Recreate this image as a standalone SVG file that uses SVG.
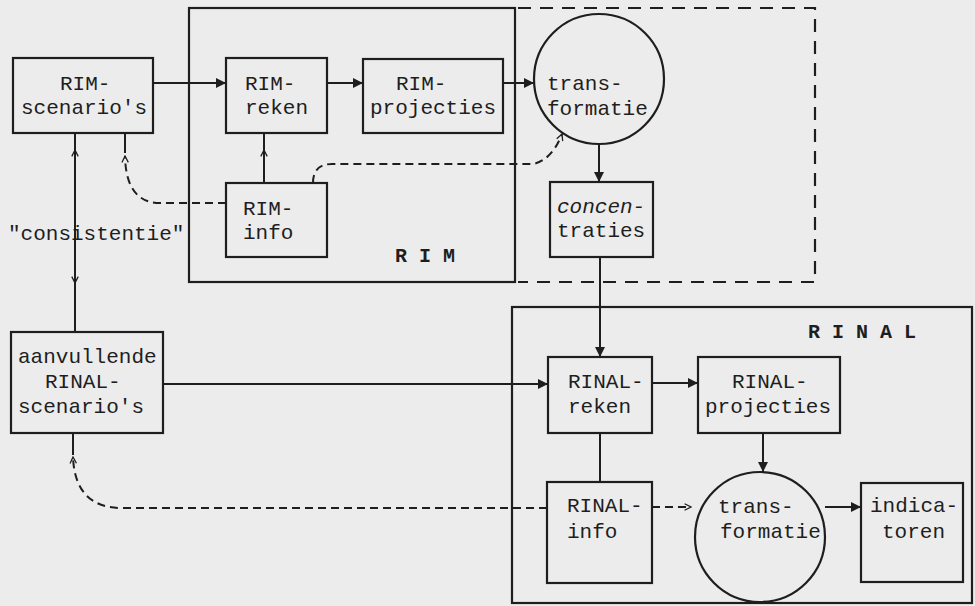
<svg xmlns="http://www.w3.org/2000/svg" width="975" height="606" viewBox="0 0 975 606">
<style>
  .bg{fill:#ececec}
  .box{fill:none;stroke:#1e1e1e;stroke-width:2.2}
  .frame{fill:none;stroke:#1e1e1e;stroke-width:2.2}
  .dframe{fill:none;stroke:#1e1e1e;stroke-width:2.2;stroke-dasharray:13,9}
  .ln{fill:none;stroke:#1e1e1e;stroke-width:2}
  .dl{fill:none;stroke:#1e1e1e;stroke-width:2;stroke-dasharray:8,5}
  text{font-family:"Liberation Mono","Courier New",monospace;font-size:21px;fill:#1e1e1e}
  .lbl{font-weight:bold;font-size:20px}
</style>
<defs>
  <marker id="arr" viewBox="0 0 10 10" refX="10" refY="5" markerWidth="5" markerHeight="5" orient="auto" markerUnits="strokeWidth">
    <path d="M0,0 L10,5 L0,10 z" fill="#1e1e1e"/>
  </marker>
  <marker id="tip" viewBox="0 0 10 10" refX="9" refY="5" markerWidth="4" markerHeight="4" orient="auto" markerUnits="strokeWidth">
    <path d="M1,1 L9,5 L1,9" fill="none" stroke="#1e1e1e" stroke-width="1.6"/>
  </marker>
</defs>
<rect class="bg" x="0" y="0" width="975" height="606"/>

<g id="rim-frame">
  <rect class="frame" x="189" y="8" width="326" height="274"/>
  <text class="lbl" x="395" y="262">R I M</text>
</g>
<g id="rim-dashed-frame">
  <path class="dframe" d="M518,8 H815 V282 H518"/>
</g>
<g id="rinal-frame">
  <rect class="frame" x="512" y="307" width="460" height="296"/>
  <text class="lbl" x="808" y="338">R I N A L</text>
</g>

<g id="rim-scenarios">
  <rect class="box" x="13" y="58" width="140" height="75"/>
  <text x="60" y="90">RIM-</text>
  <text x="21" y="114">scenario's</text>
</g>
<g id="rim-reken">
  <rect class="box" x="226" y="58" width="101" height="75"/>
  <text x="245" y="90">RIM-</text>
  <text x="245" y="114">reken</text>
</g>
<g id="rim-projecties">
  <rect class="box" x="363" y="59" width="140" height="74"/>
  <text x="396" y="90">RIM-</text>
  <text x="370" y="114">projecties</text>
</g>
<g id="transformatie-1">
  <circle class="box" cx="599" cy="79" r="65"/>
  <text x="547" y="90">trans-</text>
  <text x="547" y="115">formatie</text>
</g>
<g id="rim-info">
  <rect class="box" x="226" y="183" width="101" height="74"/>
  <text x="243" y="215">RIM-</text>
  <text x="243" y="239">info</text>
</g>
<g id="concentraties">
  <rect class="box" x="550" y="182" width="103" height="75"/>
  <text x="557" y="213" font-style="italic">concen-</text>
  <text x="557" y="237">traties</text>
</g>
<g id="consistentie-label">
  <text x="8" y="240">"consistentie"</text>
</g>
<g id="aanvullende">
  <rect class="box" x="11" y="332" width="152" height="101"/>
  <text x="18" y="363">aanvullende</text>
  <text x="45" y="388">RINAL-</text>
  <text x="18" y="413">scenario's</text>
</g>
<g id="rinal-reken">
  <rect class="box" x="548" y="357" width="104" height="76"/>
  <text x="568" y="388">RINAL-</text>
  <text x="568" y="413">reken</text>
</g>
<g id="rinal-projecties">
  <rect class="box" x="698" y="357" width="142" height="76"/>
  <text x="732" y="388">RINAL-</text>
  <text x="705" y="413">projecties</text>
</g>
<g id="rinal-info">
  <rect class="box" x="547" y="482" width="105" height="101"/>
  <text x="567" y="512">RINAL-</text>
  <text x="567" y="538">info</text>
</g>
<g id="transformatie-2">
  <circle class="box" cx="760" cy="537" r="65"/>
  <text x="718" y="513">trans-</text>
  <text x="720" y="538">formatie</text>
</g>
<g id="indicatoren">
  <rect class="box" x="861" y="483" width="102" height="99"/>
  <text x="870" y="512">indica-</text>
  <text x="882" y="538">toren</text>
</g>

<g id="connectors">
  <path class="ln" d="M153,83 H226" marker-end="url(#arr)"/>
  <path class="ln" d="M327,83 H363" marker-end="url(#arr)"/>
  <path class="ln" d="M503,83 H534" marker-end="url(#arr)"/>
  <path class="ln" d="M599,144 V182" marker-end="url(#arr)"/>
  <path class="ln" d="M600,257 V357" marker-end="url(#arr)"/>
  <path class="ln" d="M163,384 H548" marker-end="url(#arr)"/>
  <path class="ln" d="M652,383 H698" marker-end="url(#arr)"/>
  <path class="ln" d="M763,433 V472" marker-end="url(#arr)"/>
  <path class="ln" d="M825,507 H861" marker-end="url(#arr)"/>
  <path class="ln" d="M600,433 V482"/>
  <!-- RIM-info to RIM-reken -->
  <path class="ln" d="M264,183 V150" marker-end="url(#tip)"/>
  <path class="ln" d="M264,152 V133"/>
  <!-- consistentie -->
  <path class="ln" d="M75,133 V332"/>
  <path class="ln" d="M75,170 V150" marker-end="url(#tip)"/>
  <path class="ln" d="M75,262 V283" marker-end="url(#tip)"/>
  <!-- dashed feedbacks -->
  <path class="dl" d="M226,203 H160 Q126,203 125,156" marker-end="url(#tip)"/>
  <path class="ln" d="M125,153 V133"/>
  <path class="dl" d="M313,183 Q313,164 332,164 H533 Q552,160 562,134" marker-end="url(#tip)"/>
  <path class="dl" d="M547,508 H122 Q75,508 73,457" marker-end="url(#tip)"/>
  <path class="ln" d="M73,455 V433"/>
  <path class="dl" d="M652,507 H691" marker-end="url(#tip)"/>
</g>
</svg>
